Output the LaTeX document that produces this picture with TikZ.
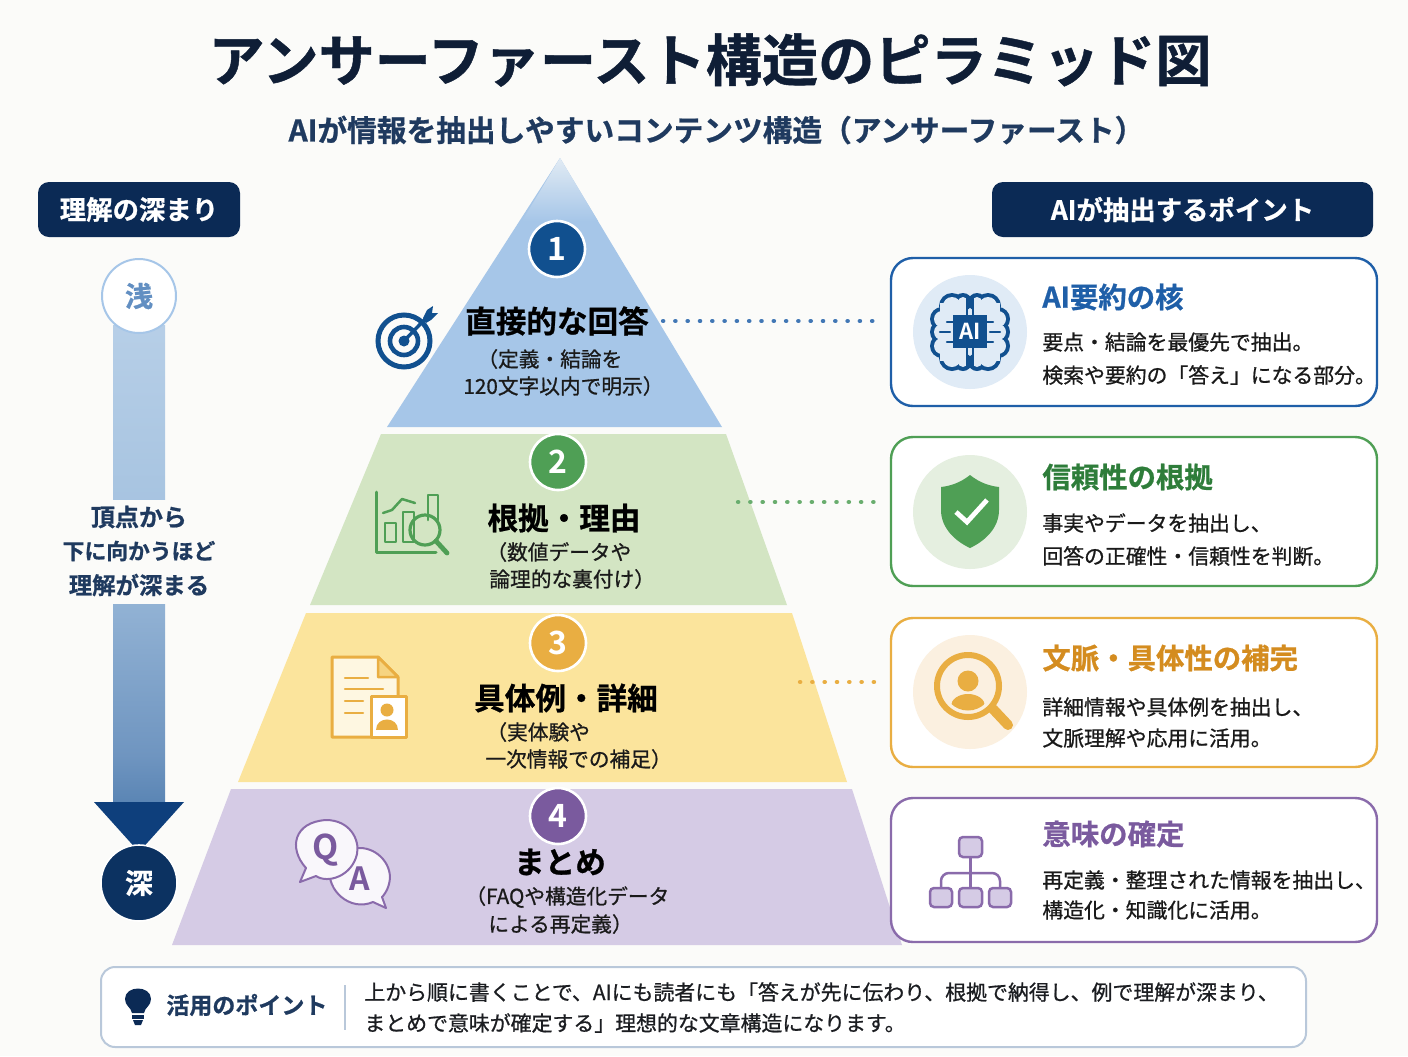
\documentclass[tikz,border=0pt]{standalone}
\usepackage{fontspec}
\setmainfont{Noto Sans CJK JP}[BoldFont={Noto Sans CJK JP Bold}]
\newfontfamily\jpm{Noto Sans CJK JP}[FakeBold=0.8]
\newfontfamily\jpb{Noto Sans CJK JP Bold}[FakeBold=0.8]
\newcommand\fsz[1]{\fontsize{#1}{#1}\selectfont}
\definecolor{bgc}{HTML}{FBFBF9}
\definecolor{navy}{HTML}{0B2A55}
\definecolor{titlec}{HTML}{0F1E36}
\definecolor{subc}{HTML}{1F3A5F}
\definecolor{inkc}{HTML}{1A1A1A}
\definecolor{bluea}{HTML}{11508F}
\definecolor{blueb}{HTML}{A6C6E8}
\definecolor{bluec}{HTML}{1F5FA8}
\definecolor{blued}{HTML}{E0EBF6}
\definecolor{greena}{HTML}{4F9F55}
\definecolor{greenb}{HTML}{D3E5C3}
\definecolor{greenc}{HTML}{2E7D3A}
\definecolor{greend}{HTML}{E5EFE0}
\definecolor{yellowa}{HTML}{E9AE42}
\definecolor{yellowb}{HTML}{FBE49C}
\definecolor{yellowc}{HTML}{D48C1F}
\definecolor{yellowd}{HTML}{FBF0E0}
\definecolor{purplea}{HTML}{7A5A9E}
\definecolor{purpleb}{HTML}{D5CBE5}
\definecolor{purplec}{HTML}{8A6BAB}
\definecolor{frame}{HTML}{B9C8DA}
\definecolor{barA}{HTML}{0F4680}
\definecolor{barA2}{HTML}{1C5590}
\definecolor{barB}{HTML}{6F95C0}
\definecolor{barC}{HTML}{A6C3E0}
\definecolor{barD}{HTML}{CBDDF0}
\definecolor{headA}{HTML}{0E3F7C}
\pgfdeclareverticalshading{barshade}{100bp}{color(0bp)=(barA);color(10bp)=(barA2);color(30bp)=(barB);color(55bp)=(barC);color(100bp)=(barD)}
\tikzset{
  txt/.style={inner sep=0pt,align=center},
  ltxt/.style={inner sep=0pt,anchor=west},
  layerhead/.style={txt,font=\jpb\fsz{15.3},text=black},
  layersub/.style={ltxt,font=\jpm\fsz{10.35},text=inkc},
  cardhead/.style={ltxt,font=\jpb\fsz{14.2}},
  cardbody/.style={ltxt,font=\jpm\fsz{10.42},text=inkc},
  headbox/.style={rounded corners=5.5pt,fill=navy,inner sep=0pt,minimum height=27.5pt,text=white,font=\jpb\fsz{13.2}},
  card/.style={rounded corners=11pt,fill=white,line width=1.2pt,inner sep=0pt},
  numdisc/.style={circle,draw=white,line width=1.3pt,minimum size=28pt,inner sep=0pt,text=white,font=\bfseries\fsz{16}},
  icondisc/.style={circle,minimum size=57pt,inner sep=0pt},
  dotline/.style={line width=2.2pt,line cap=round,dash pattern=on 0.1pt off 6.05pt},
  iconline/.style={line width=1.25pt,line cap=round,line join=round},
}
\begin{document}
\begin{tikzpicture}[x=0.5pt,y=-0.5pt]
\useasboundingbox (0,0) rectangle (1408,1056);
\fill[bgc] (0,0) rectangle (1408,1056);

% title
\node[txt,font=\jpb\fsz{28.1},text=titlec] (title) at (710,60) {アンサーファースト構造のピラミッド図};
\node[txt,font=\jpb\fsz{14.85},text=subc] (subtitle) at (716.5,130) {AIが情報を抽出しやすいコンテンツ構造（アンサーファースト）};

% pyramid
\fill[blueb] (560,158) -- (722,427) -- (387,427) -- cycle;
\shade[top color=bgc!70!blueb,bottom color=blueb] (560,158) -- (598,221) -- (522,221) -- cycle;
\fill[greenb] (381,434) -- (726,434) -- (787,605) -- (310,605) -- cycle;
\fill[yellowb] (306,613) -- (792,613) -- (847,782) -- (238,782) -- cycle;
\fill[purpleb] (231,789) -- (852,789) -- (902,945) -- (172,945) -- cycle;

% number discs
\node[numdisc,fill=bluea] (n1) at (557,249) {1};
\node[numdisc,fill=greena] (n2) at (558,462) {2};
\node[numdisc,fill=yellowa] (n3) at (558,643) {3};
\node[numdisc,fill=purplea] (n4) at (558,816) {4};

% layer text
\node[layerhead] (h1) at (557,321) {直接的な回答};
\node[layersub] (s1a) at (477,359) {（定義・結論を};
\node[layersub] (s1b) at (463,386) {120文字以内で明示）};
\node[layerhead] (h2) at (564,518) {根拠・理由};
\node[layersub] (s2a) at (486,552) {（数値データや};
\node[layersub] (s2b) at (489,579) {論理的な裏付け）};
\node[layerhead] (h3) at (566,698) {具体例・詳細};
\node[layersub] (s3a) at (486,732) {（実体験や};
\node[layersub] (s3b) at (485,759) {一次情報での補足）};
\node[layerhead] (h4) at (560,862) {まとめ};
\node[layersub] (s4a) at (465,897) {（FAQや構造化データ};
\node[layersub] (s4b) at (488,924) {による再定義）};

% left column
\node[headbox,minimum width=101pt] (lefthead) at (139,209.5) {理解の深まり};
\shade[shading=barshade] (113,325) rectangle (165,803);
\fill[headA] (94,802) -- (184,802) -- (139,852) -- cycle;
\fill[bgc] (55,500) rectangle (223,604);
\node[txt,font=\jpb\fsz{12},text=subc] (la) at (139,517) {頂点から};
\node[txt,font=\jpb\fsz{10.9},text=subc] (lb) at (139,551) {下に向かうほど};
\node[txt,font=\jpb\fsz{11.7},text=subc] (lc) at (139,585) {理解が深まる};
\node[circle,draw=blueb,line width=1pt,fill=white,minimum size=37pt,inner sep=0pt,text=bluec!70!white,font=\jpb\fsz{14}] (shallow) at (139,296) {浅};
\node[circle,draw=white,line width=.8pt,fill=navy!80!bluea,minimum size=38pt,inner sep=0pt,text=white,font=\jpb\fsz{14}] (deep) at (139,883) {深};

% right column
\node[headbox,minimum width=190.5pt] (righthead) at (1182.5,209.5) {AIが抽出するポイント};

\node[card,draw=bluec,minimum width=243pt,minimum height=74pt] (c1) at (1134,332) {};
\node[card,draw=greena,minimum width=243pt,minimum height=74.5pt] (c2) at (1134,511.5) {};
\node[card,draw=yellowa,minimum width=243pt,minimum height=74.5pt] (c3) at (1134,692.5) {};
\node[card,draw=purplec,minimum width=243pt,minimum height=72pt] (c4) at (1134,870) {};

\node[cardhead,text=bluec] (t1) at (1042,297) {AI要約の核};
\node[cardbody] (b1a) at (1042,342) {要点・結論を最優先で抽出。};
\node[cardbody] (b1b) at (1042,375) {検索や要約の「答え」になる部分。};
\node[cardhead,text=greenc] (t2) at (1042,477) {信頼性の根拠};
\node[cardbody] (b2a) at (1042,523) {事実やデータを抽出し、};
\node[cardbody] (b2b) at (1042,556) {回答の正確性・信頼性を判断。};
\node[cardhead,text=yellowc] (t3) at (1042,658) {文脈・具体性の補完};
\node[cardbody] (b3a) at (1042,707) {詳細情報や具体例を抽出し、};
\node[cardbody] (b3b) at (1042,738) {文脈理解や応用に活用。};
\node[cardhead,text=purplea] (t4) at (1042,834) {意味の確定};
\node[cardbody] (b4a) at (1042,880) {再定義・整理された情報を抽出し、};
\node[cardbody] (b4b) at (1042,910) {構造化・知識化に活用。};

% dotted connectors
\coordinate (d1a) at (663,321); \coordinate (d1b) at (876,321);
\coordinate (d2a) at (738,502); \coordinate (d2b) at (876,502);
\coordinate (d3a) at (800,682); \coordinate (d3b) at (876,682);
\draw[dotline,draw=bluec!85!white] (d1a) -- (d1b);
\draw[dotline,draw=greena!85!white] (d2a) -- (d2b);
\draw[dotline,draw=yellowa] (d3a) -- (d3b);

% icon: target
\begin{scope}[bluea]
\draw[line width=2.5pt] (404,341) circle (26);
\draw[line width=2.3pt] (404,341) circle (14);
\fill (404,341) circle (5.5);
\draw[line width=1.7pt] (404,341) -- (428,316);
\fill (423,318) -- (427,310) -- (433,306) -- (432,313) -- (438,313) -- (431,320) -- (426,323) -- cycle;
\end{scope}

% icon: chart and lens
\begin{scope}[greena]
\draw[iconline,line width=1.5pt] (376,492) -- (376,552) -- (436,552);
\draw[iconline] (385,542) rectangle (396,523);
\draw[iconline] (403,542) rectangle (414,512);
\draw[iconline] (428,520) -- (428,495) -- (438,495) -- (438,520);
\draw[iconline] (383,513) -- (392,510) -- (402,499) -- (415,503);
\draw[line width=1.6pt] (425,530) circle (15);
\draw[line width=2.4pt,line cap=round] (436,541) -- (447,553);
\end{scope}

% icon: document
\begin{scope}
\draw[iconline,line width=1.5pt,draw=yellowa,fill=yellowb!30!white] (332,657) -- (378,657) -- (398,677) -- (398,737) -- (332,737) -- cycle;
\draw[iconline,draw=yellowa,fill=yellowb!70!yellowa] (378,657) -- (398,677) -- (378,677) -- cycle;
\foreach \yy/\xx in {678/368,689/383,701/363,713/363}
  \draw[iconline,draw=yellowa] (345,\yy) -- (\xx,\yy);
\draw[iconline,line width=1.5pt,draw=yellowa,fill=white] (371,696) rectangle (406,737);
\fill[yellowa] (387,710) circle (6.5);
\fill[yellowa] (376,730) .. controls (376,716) and (398,716) .. (398,730) -- cycle;
\end{scope}

% icon: Q and A bubbles
\draw[draw=purplec,line width=1pt,line join=round,fill=white!85!purpleb] (386,908) -- (373,902) .. controls (350,912) and (326,890) .. (330,868) .. controls (334,850) and (350,848) .. (360,848) .. controls (378,848) and (394,866) .. (389,884) .. controls (387,892) and (383,896) .. (382,897) -- cycle;
\draw[draw=purplec,line width=1pt,line join=round,fill=white!85!purpleb] (300,882) -- (306,868) .. controls (288,848) and (294,822) .. (326,820) .. controls (350,820) and (360,840) .. (357,854) .. controls (352,876) and (328,884) .. (316,876) -- cycle;
\node[txt,font=\bfseries\fsz{17},text=purplea] (qq) at (326,850) {Q};
\node[txt,font=\bfseries\fsz{16},text=purplea] (aa) at (360,879) {A};

% icon discs
\node[icondisc,fill=blued] (d1) at (970,332) {};
\node[icondisc,fill=greend] (d2) at (970,512) {};
\node[icondisc,fill=yellowd] (d3) at (970,692) {};

% icon: brain
\foreach \s in {-1,1}{
\begin{scope}[shift={(970,0)},xscale=\s]
\foreach \dx/\dy/\r in {18/306/11,28/319/10,28/332/10,28/346/10,18/358/11,7/302/7,7/362/7}
  \fill[bluea] (\dx,\dy) circle (\r+2);
\end{scope}}
\foreach \s in {-1,1}{
\begin{scope}[shift={(970,0)},xscale=\s]
\foreach \dx/\dy/\r in {18/306/11,28/319/10,28/332/10,28/346/10,18/358/11,7/302/7,7/362/7}
  \fill[blued] (\dx,\dy) circle (\r-2);
\fill[blued] (3,303) rectangle (30,361);
\draw[bluea,line width=1.2pt] (3,298) -- (3,366);
\draw[bluea,line width=1.2pt,line cap=round] (20,332) -- (30,332);
\draw[bluea,line width=1.2pt,line cap=round] (17,322) -- (23,322);
\draw[bluea,line width=1.2pt,line cap=round] (17,342) -- (23,342);
\end{scope}}
\node[fill=bluea,minimum width=17pt,minimum height=16.5pt,inner sep=0pt,text=white,font=\bfseries\fsz{11}] (chip) at (970,331.5) {AI};

% icon: shield
\fill[greena] (970,475) .. controls (980,483) and (990,486) .. (999,487) -- (999,510) .. controls (999,528) and (985,541) .. (970,548) .. controls (955,541) and (941,528) .. (941,510) -- (941,487) .. controls (950,486) and (960,483) .. (970,475) -- cycle;
\draw[white,line width=2.4pt] (956,512) -- (967,522) -- (987,500);

% icon: person lens
\begin{scope}
\clip (968,686) circle (24.5);
\fill[yellowa] (968,681) circle (10.5);
\fill[yellowa] (968,706) ellipse (17 and 12);
\end{scope}
\draw[yellowa,line width=3pt] (968,686) circle (31);
\draw[yellowa,line width=5pt,line cap=round] (993,709) -- (1008,725);

% icon: hierarchy
\tikzset{hbox/.style={draw=purplec,fill=purpleb,line width=1.25pt,rounded corners=2pt}}
\draw[purplec,line width=1.25pt,rounded corners=4pt] (941,888) -- (941,873) -- (1000,873) -- (1000,888);
\draw[purplec,line width=1.25pt] (970.5,857) -- (970.5,888);
\draw[hbox] (959,837) rectangle (982,857);
\draw[hbox] (930,888) rectangle (952,907);
\draw[hbox] (959,888) rectangle (982,907);
\draw[hbox] (989,888) rectangle (1011,907);

% bottom strip
\node[rounded corners=7pt,draw=frame,line width=1pt,fill=white,minimum width=602.5pt,minimum height=40pt,inner sep=0pt] (tip) at (703.5,1007) {};
\fill[navy] (132,1013) .. controls (131,1007) and (125,1006) .. (125,999) .. controls (125,985) and (151,985) .. (151,999) .. controls (151,1006) and (145,1007) .. (144,1013) -- cycle;
\fill[navy] (132,1015) rectangle (144,1019);
\fill[navy] (133,1020) -- (143,1020) -- (141,1025) -- (135,1025) -- cycle;
\node[ltxt,font=\jpb\fsz{11.5},text=subc] (tiphead) at (166,1005) {活用のポイント};
\coordinate (sepa) at (345,985); \coordinate (sepb) at (345,1030);
\draw[frame,line width=.8pt] (sepa) -- (sepb);
\node[ltxt,font=\jpm\fsz{10.45},text=inkc!90!subc] (tipa) at (364,992) {上から順に書くことで、AIにも読者にも「答えが先に伝わり、根拠で納得し、例で理解が深まり、};
\node[ltxt,font=\jpm\fsz{10.45},text=inkc!90!subc] (tipb) at (364,1023) {まとめで意味が確定する」理想的な文章構造になります。};
\end{tikzpicture}
\end{document}
